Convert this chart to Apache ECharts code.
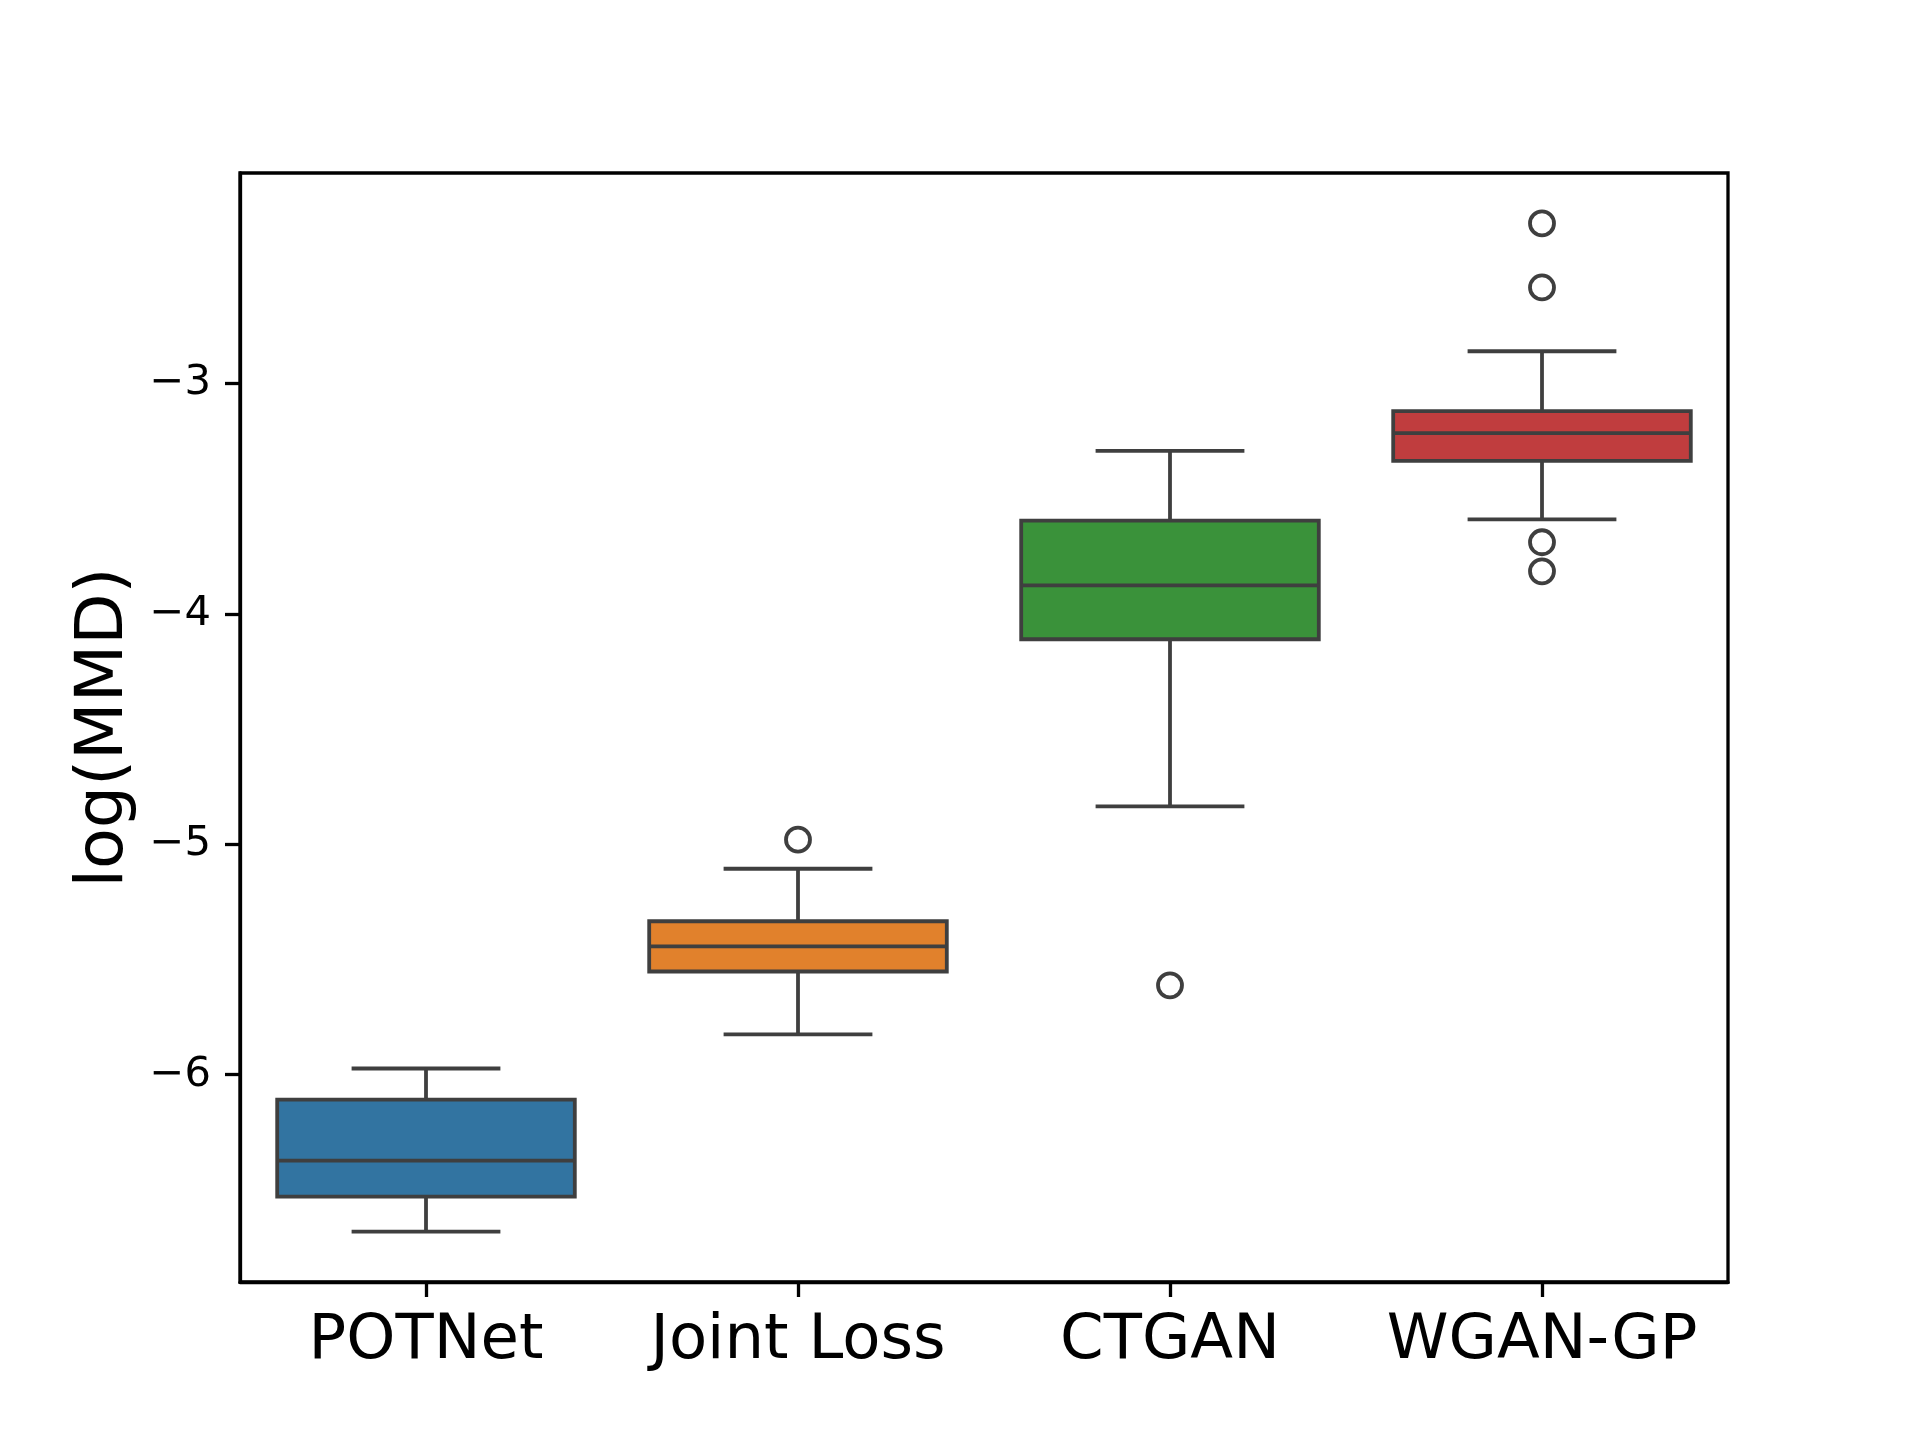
<!DOCTYPE html>
<html>
<head>
<meta charset="utf-8">
<script src="https://cdn.jsdelivr.net/npm/echarts@6/dist/echarts.min.js"></script>
<style>
  html, body { margin: 0; padding: 0; background: #fff; }
  #chart { width: 1920px; height: 1440px; }
</style>
</head>
<body>
<div id="chart"></div>
<script>
// ---- data ----
const categories = ['POTNet', 'Joint Loss', 'CTGAN', 'WGAN-GP'];
const whiskerLow  = [-6.681, -5.825, -4.835, -3.590];
const q1          = [-6.529, -5.552, -4.110, -3.336];
const median      = [-6.373, -5.443, -3.876, -3.215];
const q3          = [-6.108, -5.334, -3.595, -3.120];
const whiskerHigh = [-5.973, -5.106, -3.292, -2.860];
const outliers    = [[], [-4.980], [-5.612], [-2.305, -2.583, -3.689, -3.815]];
const yTicks      = [-6, -5, -4, -3];
const boxColors   = ['#3274a1', '#e1812c', '#3a923a', '#c03d3e'];

const lineColor = '#3f3f3f';
const lw = 3.8;

const boxData = categories.map((c, i) => [i, whiskerLow[i], q1[i], median[i], q3[i], whiskerHigh[i]]);
const outlierData = [];
outliers.forEach((arr, i) => arr.forEach(v => outlierData.push([i, v])));

// matplotlib-like autoscale with 5% margins
const allVals = whiskerLow.concat(whiskerHigh, outliers.flat());
const dMin = Math.min(...allVals), dMax = Math.max(...allVals);
const pad = (dMax - dMin) * 0.05;
const yMin = dMin - pad, yMax = dMax + pad;

function renderBox(params, api) {
  const x = api.value(0);
  const lo = api.coord([x, api.value(1)]);
  const b1 = api.coord([x, api.value(2)]);
  const md = api.coord([x, api.value(3)]);
  const b3 = api.coord([x, api.value(4)]);
  const hi = api.coord([x, api.value(5)]);
  const band = api.size([1, 0])[0];
  const bw = band * 0.8, cw = band * 0.4;
  const cx = lo[0];
  const ls = { stroke: lineColor, lineWidth: lw, fill: null, lineCap: 'butt' };
  return {
    type: 'group',
    children: [
      { type: 'line', shape: { x1: cx, y1: lo[1], x2: cx, y2: b1[1] }, style: ls },
      { type: 'line', shape: { x1: cx, y1: b3[1], x2: cx, y2: hi[1] }, style: ls },
      { type: 'line', shape: { x1: cx - cw / 2, y1: lo[1], x2: cx + cw / 2, y2: lo[1] }, style: ls },
      { type: 'line', shape: { x1: cx - cw / 2, y1: hi[1], x2: cx + cw / 2, y2: hi[1] }, style: ls },
      { type: 'rect', shape: { x: cx - bw / 2, y: b3[1], width: bw, height: b1[1] - b3[1] },
        style: { fill: boxColors[params.dataIndex], stroke: lineColor, lineWidth: lw } },
      { type: 'line', shape: { x1: cx - bw / 2, y1: md[1], x2: cx + bw / 2, y2: md[1] }, style: ls }
    ]
  };
}

const chart = echarts.init(document.getElementById('chart'), null, { renderer: 'canvas' });
chart.setOption({
  animation: false,
  backgroundColor: '#ffffff',
  textStyle: { fontFamily: 'DejaVu Sans' },
  grid: {
    left: 240, right: 192, top: 173, bottom: 158,
    show: true, borderColor: '#000', borderWidth: 3.3, backgroundColor: 'transparent'
  },
  xAxis: {
    type: 'category',
    data: categories,
    boundaryGap: true,
    axisLine: { show: true, lineStyle: { color: '#000', width: 3.3 } },
    axisTick: { show: true, alignWithLabel: true, length: 15, lineStyle: { color: '#000', width: 3.3 } },
    axisLabel: { color: '#000', fontSize: 62.5, margin: 28, interval: 0, fontFamily: 'DejaVu Sans' },
    splitLine: { show: false }
  },
  yAxis: {
    type: 'value',
    min: yMin,
    max: yMax,
    name: 'log(MMD)',
    nameLocation: 'middle',
    nameGap: 100,
    nameTextStyle: { color: '#000', fontSize: 66.7, fontFamily: 'DejaVu Sans' },
    axisLine: { show: true, lineStyle: { color: '#000', width: 3.3 } },
    axisTick: { show: true, length: 15, customValues: yTicks, lineStyle: { color: '#000', width: 3.3 } },
    axisLabel: {
      color: '#000', fontSize: 41.7, margin: 29, fontFamily: 'DejaVu Sans',
      customValues: yTicks,
      formatter: v => (v < 0 ? '\u2212' : '') + Math.abs(Math.round(v))
    },
    splitLine: { show: false }
  },
  series: [
    {
      type: 'custom',
      renderItem: renderBox,
      data: boxData,
      encode: { x: 0, y: [1, 2, 3, 4, 5] },
      z: 2
    },
    {
      type: 'scatter',
      data: outlierData,
      symbol: 'circle',
      symbolSize: 24,
      itemStyle: { color: 'rgba(0,0,0,0)', borderColor: lineColor, borderWidth: lw, opacity: 1 },
      z: 3
    }
  ]
});
</script>
</body>
</html>
